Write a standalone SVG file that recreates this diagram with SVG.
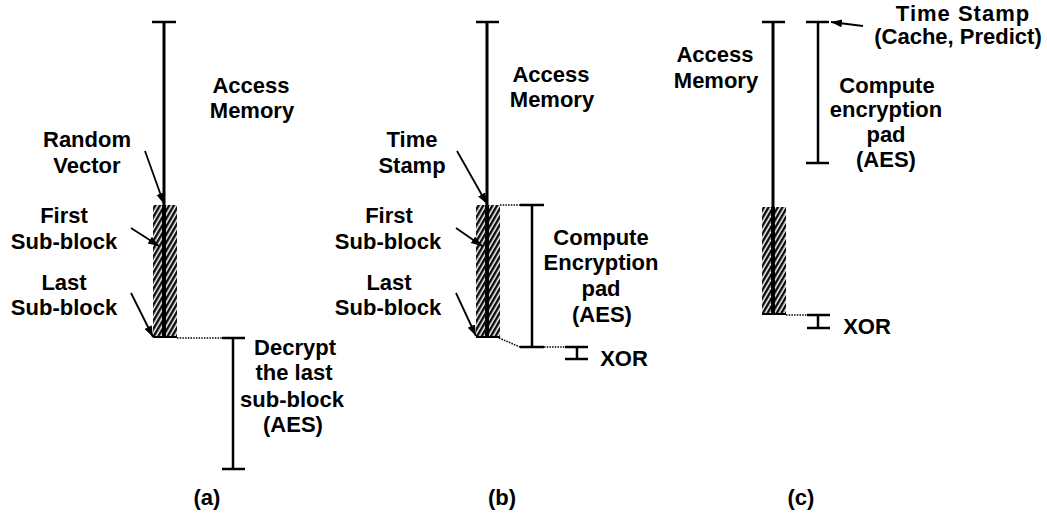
<svg xmlns="http://www.w3.org/2000/svg" width="1047" height="516" viewBox="0 0 1047 516">
<style>
text{font-family:"Liberation Sans",Arial,Helvetica,sans-serif;font-weight:bold;font-size:22px;fill:#000;text-anchor:middle}
.main{stroke:#000;stroke-width:3;fill:none}
.bar{stroke:#000;stroke-width:2.5;fill:none}
.tick{stroke:#000;stroke-width:2.5;fill:none}
.dot{stroke:#000;stroke-width:1.6;stroke-dasharray:1.5 1.2;fill:none}
.arr{stroke:#000;stroke-width:1.8;fill:none;marker-end:url(#ah)}
.hatch{fill:url(#hp)}
</style>
<defs>
<pattern id="hp" patternUnits="userSpaceOnUse" width="4" height="10" patternTransform="rotate(30)">
<rect width="4" height="10" fill="#fff"/>
<line x1="1.3" y1="0" x2="1.3" y2="10" stroke="#000" stroke-width="2.4"/>
</pattern>
<marker id="ah" markerUnits="userSpaceOnUse" markerWidth="12" markerHeight="10" refX="11" refY="4" orient="auto">
<path d="M0,0 L11,4 L0,8 Z" fill="#000"/>
</marker>
</defs>

<g id="panel-a">
<g id="a-access">
<line class="tick" x1="152" y1="22" x2="176" y2="22"/>
<line class="main" x1="164" y1="22" x2="164" y2="338"/>
<text x="251" y="93">Access</text>
<text x="252" y="118">Memory</text>
</g>
<g id="a-block">
<rect class="hatch" x="153" y="205" width="24" height="133"/>
<line stroke="#000" stroke-width="4" x1="164" y1="205" x2="164" y2="338"/>
<line stroke="#000" stroke-width="2" x1="153" y1="337" x2="177" y2="337"/>
</g>
<g id="a-random">
<text x="87" y="147">Random</text>
<text x="87" y="173">Vector</text>
</g>
<g id="a-first">
<text x="64" y="223">First</text>
<text x="64" y="249">Sub-block</text>
</g>
<g id="a-last">
<text x="64" y="290">Last</text>
<text x="64" y="315">Sub-block</text>
</g>
<g id="a-decrypt">
<line class="tick" x1="222" y1="338" x2="245" y2="338"/>
<line class="bar" x1="233" y1="338" x2="233" y2="469"/>
<line class="tick" x1="222" y1="469" x2="245" y2="469"/>
<text x="295" y="355">Decrypt</text>
<text x="294" y="380">the last</text>
<text x="292" y="407">sub-block</text>
<text x="293" y="432">(AES)</text>
</g>
<text id="cap-a" x="207" y="505">(a)</text>
</g>

<g id="panel-b">
<g id="b-access">
<line class="tick" x1="476" y1="22" x2="499" y2="22"/>
<line class="main" x1="487" y1="22" x2="487" y2="338"/>
<text x="551" y="82">Access</text>
<text x="552" y="107">Memory</text>
</g>
<g id="b-block">
<rect class="hatch" x="476" y="205" width="24" height="133"/>
<line stroke="#000" stroke-width="4" x1="487" y1="205" x2="487" y2="338"/>
<line stroke="#000" stroke-width="2" x1="476" y1="337" x2="500" y2="337"/>
</g>
<g id="b-time">
<text x="412" y="147">Time</text>
<text x="412" y="173">Stamp</text>
</g>
<g id="b-first">
<text x="389" y="223">First</text>
<text x="388" y="249">Sub-block</text>
</g>
<g id="b-last">
<text x="389" y="290">Last</text>
<text x="388" y="315">Sub-block</text>
</g>
<g id="b-compute">
<line class="tick" x1="520" y1="205" x2="544" y2="205"/>
<line class="bar" x1="532" y1="205" x2="532" y2="347"/>
<line class="tick" x1="520" y1="347" x2="544" y2="347"/>
<text x="601" y="245">Compute</text>
<text x="601" y="270">Encryption</text>
<text x="601" y="296">pad</text>
<text x="602" y="322">(AES)</text>
</g>
<g id="b-xor">
<line class="tick" x1="565" y1="347" x2="588" y2="347"/>
<line class="bar" x1="577" y1="347" x2="577" y2="359"/>
<line class="tick" x1="565" y1="359" x2="588" y2="359"/>
<text x="624" y="366">XOR</text>
</g>
<text id="cap-b" x="502" y="505">(b)</text>
</g>

<g id="panel-c">
<g id="c-access">
<line class="tick" x1="762" y1="22" x2="785" y2="22"/>
<line class="main" x1="773" y1="22" x2="773" y2="315"/>
<text x="715" y="62">Access</text>
<text x="716" y="88">Memory</text>
</g>
<g id="c-block">
<rect class="hatch" x="762" y="207" width="24" height="108"/>
<line stroke="#000" stroke-width="4" x1="773" y1="207" x2="773" y2="315"/>
<line stroke="#000" stroke-width="2" x1="762" y1="314" x2="786" y2="314"/>
</g>
<g id="c-time">
<text x="963" y="21" letter-spacing="1">Time Stamp</text>
<text x="958" y="44">(Cache, Predict)</text>
</g>
<g id="c-compute">
<line class="tick" x1="806" y1="22" x2="829" y2="22"/>
<line class="bar" x1="818" y1="22" x2="818" y2="163"/>
<line class="tick" x1="806" y1="163" x2="829" y2="163"/>
<text x="887" y="93">Compute</text>
<text x="886" y="117">encryption</text>
<text x="886" y="142">pad</text>
<text x="886" y="167">(AES)</text>
</g>
<g id="c-xor">
<line class="tick" x1="807" y1="315" x2="830" y2="315"/>
<line class="bar" x1="818" y1="315" x2="818" y2="328"/>
<line class="tick" x1="807" y1="328" x2="830" y2="328"/>
<text x="867" y="334">XOR</text>
</g>
<text id="cap-c" x="801" y="505">(c)</text>
</g>

<g id="connectors">
<line class="arr" x1="145" y1="151" x2="164" y2="204"/>
<line class="arr" x1="131" y1="228" x2="159" y2="246"/>
<line class="arr" x1="131" y1="293" x2="153" y2="337"/>
<line class="dot" x1="177" y1="338" x2="222" y2="338"/>
<line class="arr" x1="457" y1="151" x2="487" y2="204"/>
<line class="arr" x1="456" y1="228" x2="482" y2="246"/>
<line class="arr" x1="456" y1="293" x2="476" y2="336"/>
<line class="dot" x1="500" y1="205" x2="520" y2="205"/>
<line class="dot" x1="499" y1="338" x2="520" y2="347"/>
<line class="dot" x1="544" y1="347" x2="565" y2="347"/>
<line class="arr" x1="863" y1="26" x2="831" y2="22"/>
<line class="dot" x1="786" y1="315" x2="807" y2="315"/>
</g>
</svg>
